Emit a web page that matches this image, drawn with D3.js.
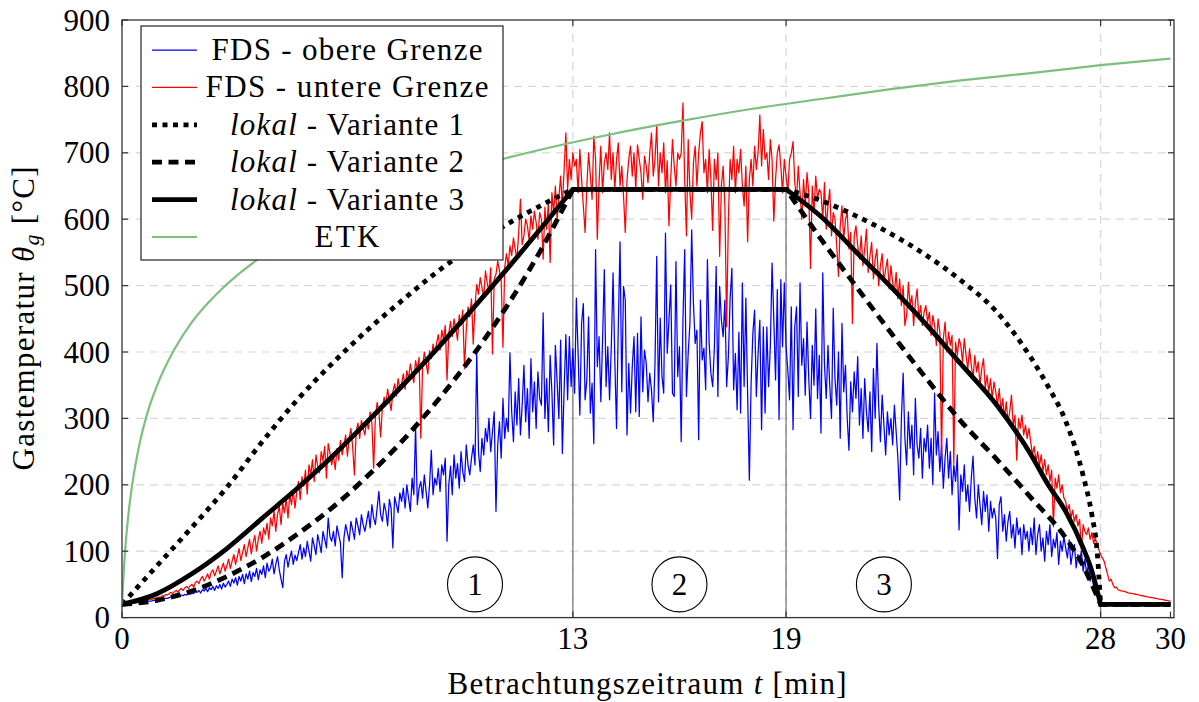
<!DOCTYPE html>
<html><head><meta charset="utf-8">
<script src="https://cdn.jsdelivr.net/npm/d3@7"></script>
<style>
body{margin:0;background:#fff}
svg{display:block}
</style>
</head><body>
<svg id="chart" width="1199" height="702"></svg>
<script>
// ---------------- DATA ----------------
const STEP = 0.05; // minutes between FDS samples
const redVals = [
20,20,21,21,22,22,23,23,24,24,25,25,26,25,27,27,28,27,29,29,
30,31,30,33,32,35,34,36,38,36,39,41,38,42,44,41,45,47,44,48,
50,46,53,55,51,58,62,55,60,66,58,68,72,63,70,78,66,74,82,70,
78,88,74,85,95,80,92,104,86,98,110,92,105,118,96,112,124,100,118,130,
112,135,125,142,118,150,138,160,130,155,168,140,172,158,180,150,185,170,192,165,
190,205,178,212,198,222,186,230,215,238,205,245,228,218,250,236,258,210,262,248,
230,245,223,255,237,267,245,260,275,243,270,285,257,215,280,293,270,297,285,275,
297,284,310,292,225,302,324,310,272,317,332,322,344,327,312,340,352,334,360,344,
352,367,344,372,360,382,367,354,387,374,392,270,377,400,384,367,402,390,412,397,
413,426,403,433,418,440,358,428,446,423,450,436,418,456,440,463,375,433,468,453,
480,412,470,502,487,512,497,482,522,504,490,527,397,510,517,537,522,507,407,527,
548,530,560,545,572,555,540,580,630,562,575,600,590,568,605,585,612,595,570,610,
600,540,618,585,625,535,640,610,650,600,632,665,620,675,730,645,690,660,700,680,
690,640,705,660,620,580,650,700,665,630,725,690,570,655,710,640,685,700,675,730,
660,700,645,690,715,650,680,635,580,660,690,710,665,700,645,712,690,670,630,695,
680,655,700,730,665,690,742,650,700,670,715,640,688,590,660,720,680,650,700,690,
700,775,660,575,720,640,600,685,710,650,700,730,747,670,690,640,705,660,583,690,
660,700,544,650,680,620,438,600,690,660,710,640,690,670,705,650,620,680,566,660,
690,650,710,675,700,757,680,735,690,700,660,720,690,597,660,700,712,680,640,690,
665,640,690,700,717,655,630,680,640,600,660,620,670,640,526,650,610,665,630,645,
640,600,655,585,620,645,575,610,600,560,514,590,620,570,600,610,555,580,443,575,
590,560,540,575,530,555,585,520,545,565,510,540,555,500,530,548,505,525,540,495,
530,505,490,520,480,510,470,500,440,455,505,470,485,440,475,495,450,470,440,460,
470,445,460,425,455,440,410,450,430,243,420,445,400,430,410,425,232,415,395,420,
410,385,420,395,375,405,380,360,395,370,385,350,375,390,345,365,340,360,330,355,
340,320,345,310,330,300,325,295,310,335,290,305,237,300,285,305,275,290,270,285,
265,245,258,235,250,228,245,220,238,215,230,205,222,137,210,195,215,188,200,180,
175,160,170,150,162,145,155,138,148,102,140,130,125,135,118,128,112,120,108,102,
95,90,85,75,65,55,58,50,45,46,42,41,40,40,39,38,37,37,36,36,
35,35,34,33,33,32,32,31,31,30,30,29,29,28,28,27,27,26,26,25,
25];
const blueVals = [
20,20,20,21,21,21,22,22,22,23,23,23,24,24,24,25,25,25,26,26,
26,27,27,28,28,29,29,30,31,30,32,31,33,32,34,33,35,34,36,35,
37,36,39,38,41,37,42,40,44,39,45,42,47,41,48,44,50,43,52,46,
50,55,47,58,52,60,49,62,55,65,51,66,58,70,54,68,62,74,57,72,
65,78,60,82,70,75,88,66,80,92,72,58,45,85,95,76,90,100,80,94,
86,98,110,88,105,92,115,100,85,120,108,95,125,112,98,130,118,105,150,122,
115,130,108,138,125,112,60,120,140,128,115,145,132,118,150,138,125,155,140,130,
145,160,135,170,150,140,165,190,155,145,172,160,138,178,165,105,182,170,158,188,
175,195,165,200,180,160,210,185,288,170,195,205,180,215,190,165,200,252,185,210,
200,225,190,230,215,240,115,200,228,185,245,210,232,195,250,220,205,260,230,215,
240,260,230,400,250,220,270,245,285,265,300,250,280,310,160,260,295,240,330,270,
300,280,399,310,265,340,290,360,275,320,380,295,345,270,390,310,355,285,370,330,
320,459,300,360,280,395,340,260,410,355,300,
418,247,343,426,328,423,348,405,338,481,
398,305,443,473,328,358,453,308,353,262,
554,378,423,325,418,524,348,408,328,408,
519,388,285,438,566,340,499,478,275,383,
308,378,423,310,428,303,453,340,403,383,
325,368,343,295,383,544,325,451,363,338,
579,398,448,501,338,333,536,363,408,265,
448,554,333,398,443,584,473,413,433,268,
478,388,406,343,539,413,368,348,408,529,
333,499,448,423,478,348,393,481,526,343,
398,313,430,308,504,348,481,338,207,353,
428,463,333,398,448,283,438,308,438,348,
408,534,448,358,494,298,509,408,504,408,
373,328,468,283,438,468,333,
504,380,420,335,445,360,300,410,350,465,330,395,
278,519,380,330,410,350,300,466,360,320,400,270,443,340,380,300,252,355,310,370,
330,393,290,345,270,360,310,280,340,250,375,300,413,320,265,335,290,245,310,275,
300,260,320,280,240,177,300,368,270,230,310,255,290,215,330,260,240,285,210,270,
250,290,225,270,200,338,245,280,220,260,195,240,270,210,250,185,230,205,245,132,
215,190,230,175,200,160,210,243,180,150,200,170,140,190,160,185,130,175,150,165,
150,89,170,182,130,155,115,145,160,120,140,105,150,125,135,95,140,118,130,100,
135,110,150,95,125,140,100,120,85,130,110,140,92,118,105,128,80,115,100,122,
105,90,117,80,98,110,75,95,85,100,70,88,65,80,55,70,45,55,38,30,
22];

// ETK (Einheits-Temperaturzeitkurve)
const etkT = [0,0.02,0.05,0.1,0.2,0.3,0.5,0.75,1,1.5,2,2.5,3,4,5,6,7,8,10,12,14,16,18,20,22,24,26,28,30];
const etkV = [20,42,70,108,163,203,261,312,349,404,445,476,502,544,576,603,626,645,678,705,728,748,766,781,796,809,820,832,842];

// lokal variants: rise (0..t1), plateau (t1..t2), decay (t2..t3), then ambient
const phaseT = [12.9, 19, 28];
const tEnd = 30;
const ambient = 20;
const riseT = [0,1,2,3,4,5,6,7,8,9,10,11,12,12.9];
const var1Rise = [20,78,136,196,264,327,382,432,477,520,558,592,621,645];
const var2Rise = [20,26,40,62,90,125,165,212,265,325,392,468,555,645];
const var3Rise = [20,36,66,104,149,194,242,294,348,404,463,524,587,645];
const var1DecT = [19,20,21,22,23,24,25,26,26.5,27,27.5,27.75,27.9,28];
const var1Dec  = [645,628,605,578,546,508,462,392,348,296,214,155,100,20];
const var2DecT = [19,20,21,22,23,24,25,26,27,27.5,27.75,28];
const var2Dec  = [645,570,499,429,361,296,240,181,120,78,50,20];
const var3DecT = [19,20,21,22,23,24,25,26,26.5,27,27.5,27.75,28];
const var3Dec  = [645,604,551,498,442,382,322,246,200,160,105,70,20];

const yTickVals = [0,100,200,300,400,500,600,700,800,900];
const xTickVals = [0,12.9,19,28,30];
const xTickLabels = ["0","13","19","28","30"];
const legendLabels = ["FDS - obere Grenze","FDS - untere Grenze","lokal - Variante 1","lokal - Variante 2","lokal - Variante 3","ETK"];
const circleT = [10.1,15.95,21.8];
const circleV = 50;
const circleLabels = ["1","2","3"];

// ---------------- LAYOUT ----------------
const FONT = 'Liberation Serif';
const FS = 31;
const M = {left:122, right:1174, top:20, bottom:617.6};
const x = d3.scaleLinear().domain([0,30.1]).range([M.left,M.right]);
const y = d3.scaleLinear().domain([0,900]).range([M.bottom,M.top]);
const svg = d3.select('#chart');
function txt(sel){ return sel.attr('font-family',FONT).attr('font-size',FS).attr('fill','#000'); }

svg.append('defs').append('clipPath').attr('id','clip')
  .append('rect').attr('x',M.left).attr('y',M.top).attr('width',M.right-M.left).attr('height',M.bottom-M.top);

const GRID = '#d6d6d6';
svg.append('g').selectAll('line').data(yTickVals.filter(v=>v>0&&v<900)).join('line')
  .attr('x1',M.left).attr('x2',M.right).attr('y1',d=>y(d)).attr('y2',d=>y(d))
  .attr('stroke',GRID).attr('stroke-width',1.2).attr('stroke-dasharray','8,6');
svg.append('g').selectAll('line').data(phaseT).join('line')
  .attr('x1',d=>x(d)).attr('x2',d=>x(d)).attr('y1',M.top).attr('y2',M.bottom)
  .attr('stroke',GRID).attr('stroke-width',1.2).attr('stroke-dasharray','8,6');
const phaseTop = [var3Rise[var3Rise.length-1], var3Dec[0], ambient];
svg.append('g').selectAll('line').data(phaseT).join('line')
  .attr('x1',d=>x(d)).attr('x2',d=>x(d)).attr('y1',y(0)).attr('y2',(d,i)=>y(phaseTop[i]))
  .attr('stroke','#7a7a7a').attr('stroke-width',1.3);

const plot = svg.append('g').attr('clip-path','url(#clip)');
const line = d3.line().x(d=>x(d[0])).y(d=>y(d[1]));
const mline = d3.line().x(d=>x(d[0])).y(d=>y(d[1])).curve(d3.curveMonotoneX);

const blueData = blueVals.map((v,i)=>[i*STEP,v]);
const redData = redVals.map((v,i)=>[i*STEP,v]);
plot.append('path').attr('d',line(blueData)).attr('fill','none').attr('stroke','#0000ff').attr('stroke-width',1.25).attr('stroke-linejoin','round');
plot.append('path').attr('d',line(redData)).attr('fill','none').attr('stroke','#ff0000').attr('stroke-width',1.25).attr('stroke-linejoin','round');

function variantPath(riseV, decT, decV){
  const rise = riseT.map((t,i)=>[t,riseV[i]]);
  const dec = decT.map((t,i)=>[t,decV[i]]);
  const p1 = mline(rise);
  const p2 = line([[phaseT[0],riseV[riseV.length-1]],[phaseT[1],decV[0]]]);
  const p3 = mline(dec);
  const p4 = line([[phaseT[2],ambient],[tEnd,ambient]]);
  return p1 + p2.replace(/^M/,'L') + p3.replace(/^M/,'L') + p4.replace(/^M/,'L');
}
const styles = [
  {stroke:'#0000ff', w:1.25, dash:null},
  {stroke:'#ff0000', w:1.25, dash:null},
  {stroke:'#000', w:4.8, dash:'5,5.5'},
  {stroke:'#000', w:4.8, dash:'10,6.5'},
  {stroke:'#000', w:4.8, dash:null},
  {stroke:'#7dbf7d', w:2.2, dash:null}
];
const variants = [[var1Rise,var1DecT,var1Dec],[var2Rise,var2DecT,var2Dec],[var3Rise,var3DecT,var3Dec]];
variants.forEach((v,i)=>{
  const s = styles[i+2];
  plot.append('path').attr('d',variantPath(v[0],v[1],v[2])).attr('fill','none')
    .attr('stroke',s.stroke).attr('stroke-width',s.w).attr('stroke-dasharray',s.dash)
    .attr('stroke-linejoin','miter');
});
plot.append('path').attr('d',mline(etkT.map((t,i)=>[t,etkV[i]]))).attr('fill','none')
  .attr('stroke',styles[5].stroke).attr('stroke-width',styles[5].w);

const cg = svg.append('g');
circleT.forEach((t,i)=>{
  cg.append('circle').attr('cx',x(t)).attr('cy',y(circleV)).attr('r',27.5)
    .attr('fill','none').attr('stroke','#000').attr('stroke-width',1.1);
  txt(cg.append('text')).attr('x',x(t)).attr('y',y(circleV)+10.5).attr('text-anchor','middle').text(circleLabels[i]);
});

svg.append('rect').attr('x',M.left).attr('y',M.top).attr('width',M.right-M.left).attr('height',M.bottom-M.top)
  .attr('fill','none').attr('stroke','#333').attr('stroke-width',1.3);
const tk = svg.append('g').attr('stroke','#333').attr('stroke-width',1.2);
yTickVals.forEach(v=>{
  tk.append('line').attr('x1',M.left).attr('x2',M.left+6).attr('y1',y(v)).attr('y2',y(v));
  tk.append('line').attr('x1',M.right).attr('x2',M.right-6).attr('y1',y(v)).attr('y2',y(v));
});
xTickVals.forEach(v=>{
  tk.append('line').attr('x1',x(v)).attr('x2',x(v)).attr('y1',M.bottom).attr('y2',M.bottom-6);
  tk.append('line').attr('x1',x(v)).attr('x2',x(v)).attr('y1',M.top).attr('y2',M.top+6);
});
txt(svg.append('g').selectAll('text').data(yTickVals).join('text'))
  .attr('x',M.left-12).attr('y',d=>y(d)+10.5).attr('text-anchor','end').text(d=>d);
txt(svg.append('g').selectAll('text').data(xTickVals).join('text'))
  .attr('x',d=>x(d)).attr('y',648.5).attr('text-anchor','middle').text((d,i)=>xTickLabels[i]);

const xl = txt(svg.append('text')).attr('x',647).attr('y',694).attr('text-anchor','middle')
  .attr('textLength',399).attr('lengthAdjust','spacing');
xl.append('tspan').text('Betrachtungszeitraum ');
xl.append('tspan').attr('font-style','italic').text('t');
xl.append('tspan').text(' [min]');
const yl = txt(svg.append('text')).attr('transform','translate(34,318.5) rotate(-90)').attr('text-anchor','middle')
  .attr('textLength',304).attr('lengthAdjust','spacing');
yl.append('tspan').text('Gastemperatur ');
yl.append('tspan').attr('font-style','italic').text('θ');
yl.append('tspan').attr('font-style','italic').attr('font-size',22).attr('dy',5).text('g');
yl.append('tspan').attr('dy',-5).text(' [°C]');

const lg = svg.append('g');
lg.append('rect').attr('x',141).attr('y',26).attr('width',362).attr('height',234)
  .attr('fill','#fff').attr('stroke','#222').attr('stroke-width',1.2);
const legW = [271,283,234,234,234,65];
legendLabels.forEach((lab,i)=>{
  const ry = 50 + i*37.4;
  const s = styles[i];
  lg.append('line').attr('x1',152).attr('x2',197).attr('y1',ry).attr('y2',ry)
    .attr('stroke',s.stroke).attr('stroke-width',s.w).attr('stroke-dasharray',s.dash);
  const t = txt(lg.append('text')).attr('x',347).attr('y',ry+10).attr('text-anchor','middle')
    .attr('textLength',legW[i]).attr('lengthAdjust','spacing');
  if(lab.startsWith('lokal')){
    t.append('tspan').attr('font-style','italic').text('lokal');
    t.append('tspan').text(lab.slice(5));
  } else t.text(lab);
});
</script>
</body></html>
